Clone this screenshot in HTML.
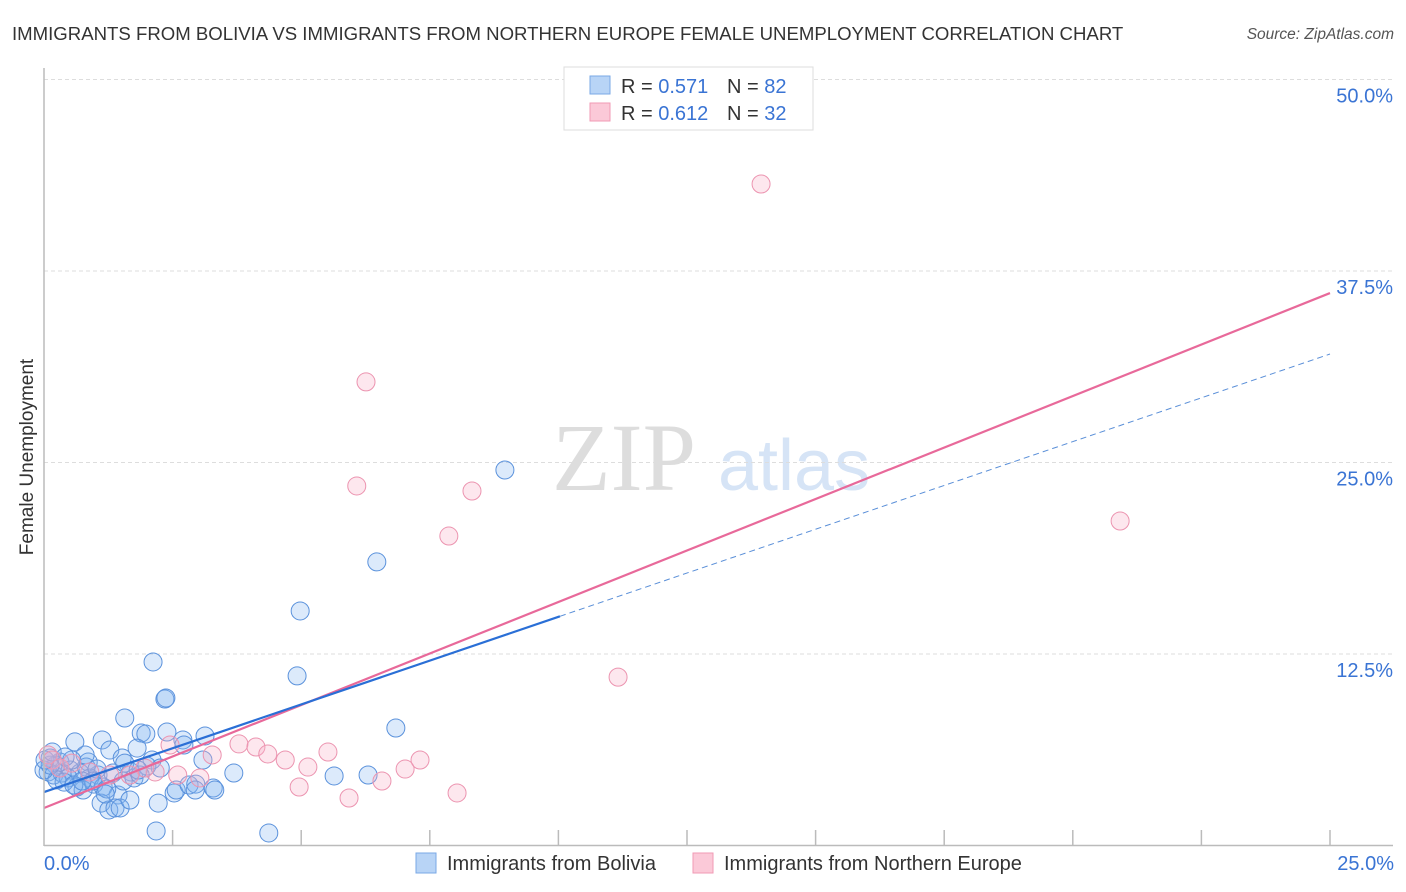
<!DOCTYPE html>
<html><head><meta charset="utf-8"><style>
body{margin:0;background:#fff;font-family:"Liberation Sans",sans-serif}
#wrap{position:relative;width:1406px;height:892px;overflow:hidden}
</style></head><body>
<div id="wrap">
<svg id="svg" width="1406" height="892" xmlns="http://www.w3.org/2000/svg">
<text x="12" y="40" font-size="18.6" fill="#333">IMMIGRANTS FROM BOLIVIA VS IMMIGRANTS FROM NORTHERN EUROPE FEMALE UNEMPLOYMENT CORRELATION CHART</text>
<text x="1394" y="39" font-size="15.5" fill="#555" text-anchor="end" font-style="italic">Source: ZipAtlas.com</text>
<text x="33" y="457" font-size="19" fill="#333" text-anchor="middle" transform="rotate(-90 33 457)">Female Unemployment</text>
<g><text x="552" y="490" font-size="96" font-family="Liberation Serif,serif" fill="#ddd">ZIP</text><text x="718" y="490" font-size="72" fill="#d6e4f6">atlas</text></g>
<g id="grid"></g><g id="pts"></g><g id="lines"></g>
<line x1="44" y1="68" x2="44" y2="846" stroke="#bbb" stroke-width="1.5"/>
<line x1="44" y1="845.5" x2="1393" y2="845.5" stroke="#bbb" stroke-width="1.5"/>
<text x="44" y="870" font-size="20" fill="#3a74d4">0.0%</text>
<text x="1394" y="870" font-size="20" fill="#3a74d4" text-anchor="end">25.0%</text>
<g>
<rect x="564" y="67" width="249" height="63" fill="#fff" stroke="#ddd"/>
<rect x="590" y="76" width="20" height="18" fill="#b8d4f6" stroke="#7aa8e6"/>
<rect x="590" y="103" width="20" height="18" fill="#fbc9d8" stroke="#f09ab4"/>
<text x="621" y="93" font-size="20" fill="#333">R = <tspan fill="#3a74d4">0.571</tspan></text>
<text x="727" y="93" font-size="20" fill="#333">N = <tspan fill="#3a74d4">82</tspan></text>
<text x="621" y="120" font-size="20" fill="#333">R = <tspan fill="#3a74d4">0.612</tspan></text>
<text x="727" y="120" font-size="20" fill="#333">N = <tspan fill="#3a74d4">32</tspan></text>
</g>
<g>
<rect x="416" y="853" width="20" height="20" fill="#b8d4f6" stroke="#7aa8e6"/>
<text x="447" y="870" font-size="20" fill="#333">Immigrants from Bolivia</text>
<rect x="693" y="853" width="20" height="20" fill="#fbc9d8" stroke="#f09ab4"/>
<text x="724" y="870" font-size="20" fill="#333">Immigrants from Northern Europe</text>
</g>
</svg></div>
<script>
const yTicks=[12.5,25,37.5,50];
const yTickLabels=["12.5%","25.0%","37.5%","50.0%"];
const xTicks=[2.5,5,7.5,10,12.5,15,17.5,20,22.5,25];
const blueX=[8.96,6.47,4.98,4.92,2.12,2.35,2.37,1.57,1.89,1.98,2.39,2.70,3.13,2.72,0.60,1.13,1.28,1.81,1.52,2.10,3.09,0.86,0.31,0.12,0.23,0.51,0.70,1.05,1.34,1.69,1.75,2.00,0.08,0.19,0.35,0.47,0.89,0.97,0.64,0.76,1.15,1.44,1.11,1.26,1.38,1.48,2.22,2.53,2.57,2.82,2.95,3.29,3.69,5.64,6.30,6.84,2.18,4.37,0.25,0.39,0.58,0.82,1.03,1.54,0.00,0.12,1.87,2.26,2.94,3.32,1.57,0.80,0.54,0.02,0.16,0.41,0.95,1.22,1.67,1.19,1.83,0.74];
const blueY=[24.51,18.51,15.31,11.07,11.98,9.56,9.63,8.32,7.34,7.28,7.41,6.89,7.15,6.56,6.76,6.89,6.23,6.36,5.71,5.58,5.58,5.45,5.45,5.71,5.25,4.93,4.73,4.60,4.73,4.80,4.41,5.19,4.80,4.60,4.73,4.41,4.41,4.01,3.82,3.62,3.82,3.30,2.77,2.32,2.45,2.45,2.77,3.43,3.62,3.95,4.01,3.75,4.73,4.54,4.60,7.67,0.95,0.82,4.28,4.14,3.95,5.12,4.99,4.21,4.93,5.25,4.60,5.06,3.62,3.62,5.38,5.91,5.58,5.58,6.10,5.78,4.21,3.69,2.97,3.36,4.93,4.21];
const pinkX=[13.94,6.26,6.08,8.32,7.87,20.92,11.16,3.79,4.12,4.35,4.69,3.27,5.52,5.13,4.96,5.93,6.57,7.02,7.31,8.03,2.45,2.16,1.96,2.60,3.03,0.08,0.16,0.31,0.54,0.89,1.28,1.67];
const pinkY=[43.18,30.26,23.47,23.14,20.20,21.18,10.99,6.63,6.43,5.97,5.58,5.91,6.10,5.12,3.82,3.10,4.21,4.99,5.58,3.43,6.56,4.80,5.06,4.60,4.41,5.91,5.58,5.06,5.38,4.80,4.60,4.60];
const blueLine=[3.49,32.08];
const blueSolidEnd=10.03;
const pinkLine=[2.45,36.06];
const NS="http://www.w3.org/2000/svg";
function sx(v){return 44+v/25*1286;}
function sy(v){return 845.5-v/50*766;}
function mk(t,a,p){const e=document.createElementNS(NS,t);for(const k in a)e.setAttribute(k,a[k]);p.appendChild(e);return e;}
const grid=document.getElementById('grid');
yTicks.forEach((t,i)=>{
 const l=mk('line',{x1:44,x2:1393,y1:sy(t),y2:sy(t),stroke:'#ddd','stroke-dasharray':'4,3'},grid);
 
 
 const tx=mk('text',{x:1393,y:sy(t)+23,'font-size':20,fill:'#3a74d4','text-anchor':'end'},grid);
 tx.textContent=yTickLabels[i];
 
 
});
xTicks.forEach(t=>{
 const l=mk('line',{x1:sx(t),x2:sx(t),y1:830,y2:845,stroke:'#bbb','stroke-width':1.5},grid);
 
 
});
const pts=document.getElementById('pts');
blueX.forEach((x,i)=>{
 const c=mk('circle',{cx:sx(x),cy:sy(blueY[i]),r:9,fill:'rgba(130,180,240,0.28)',stroke:'#5b92dc','stroke-width':1},pts);
 
 
});
pinkX.forEach((x,i)=>{
 const c=mk('circle',{cx:sx(x),cy:sy(pinkY[i]),r:9,fill:'rgba(248,175,200,0.3)',stroke:'#ec94b0','stroke-width':1},pts);
 
 
});
const lines=document.getElementById('lines');
function ly(L,x){return L[0]+(L[1]-L[0])*x/25;}
let p=mk('line',{x1:sx(0),y1:sy(ly(pinkLine,0)),x2:sx(25),y2:sy(ly(pinkLine,25)),stroke:'#e8699a','stroke-width':2.2},lines);


let b=mk('line',{x1:sx(0),y1:sy(ly(blueLine,0)),x2:sx(blueSolidEnd),y2:sy(ly(blueLine,blueSolidEnd)),stroke:'#2a6fd6','stroke-width':2.2},lines);


let bd=mk('line',{x1:sx(blueSolidEnd),y1:sy(ly(blueLine,blueSolidEnd)),x2:sx(25),y2:sy(ly(blueLine,25)),stroke:'#5a8fd8','stroke-width':1,'stroke-dasharray':'6,4'},lines);


</script>
</body></html>
